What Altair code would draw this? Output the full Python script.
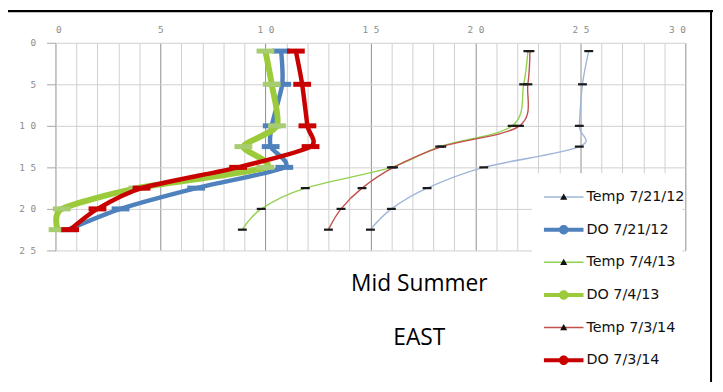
import altair as alt
import pandas as pd

# ---- data (depth profiles) ----
depths = [1, 5, 10, 12.5, 15, 17.5, 20, 22.5]
temp_2012 = [25.4, 25.1, 24.95, 24.95, 20.4, 17.7, 16.0, 15.0]
do_2012 = [10.75, 10.8, 10.3, 10.25, 10.9, 6.7, 3.1, 0.6]
temp_2013 = [22.5, 22.3, 21.75, 18.3, 16.0, 11.9, 9.8, 8.9]
do_2013 = [10.0, 10.3, 10.55, 8.95, 10.0, 3.9, 0.3, 0.1]
temp_2014 = [22.6, 22.5, 22.1, 18.4, 16.1, 14.6, 13.6, 13.0]
do_2014 = [11.45, 11.75, 12.0, 12.15, 8.7, 4.1, 2.0, 0.7]

series_names = ["Temp 7/21/12", "DO 7/21/12", "Temp 7/4/13", "DO 7/4/13", "Temp 7/3/14", "DO 7/3/14"]
series_values = [temp_2012, do_2012, temp_2013, do_2013, temp_2014, do_2014]
x_ticks = list(range(0, 31))
y_ticks = [0, 5, 10, 15, 20, 25]
annotations = ["Mid Summer", "EAST"]

# ---- styles ----
line_colors = ["#9FB6D9", "#4F81BD", "#92D050", "#9BCB3B", "#C0504D", "#C80000"]
marker_colors = ["#1a1a1a", "#4F81BD", "#1a1a1a", "#A8CC70", "#1a1a1a", "#C80000"]
legend_marker_fill = ["#111111", "transparent", "#111111", "transparent", "#111111", "transparent"]
line_widths = [1.4, 4.5, 1.4, 6, 1.4, 4.5]
tensions = [0, 0.3, 0, 0.3, 0, 0.3]
is_temp = [True, False, True, False, True, False]

TEMP_MARK = "M-1,-0.25H1V0.25H-1Z"
DO_MARK = "M-1,-0.28H1V0.28H-1Z"
LEG_TEMP = "M-2.5,-0.09H2.5V0.09H-2.5Z"
LEG_DO = "M-2.5,-0.25H2.5V0.25H-2.5Z M0.6,0A0.6,0.6 0 1,1 -0.6,0A0.6,0.6 0 1,1 0.6,0Z"
LEG_TRI = "M-0.45,0.35L0,-0.45L0.45,0.35Z"

rows = []
for name, vals in zip(series_names, series_values):
    for d, v in zip(depths, vals):
        rows.append({"series": name, "depth": d, "value": v})
df = pd.DataFrame(rows)

# tick labels in the original are widely spaced ("1 0", "2 5")
spaced = "datum.value >= 10 ? floor(datum.value / 10) + ' ' + (datum.value % 10) : datum.label"

x_enc = alt.X(
    "value:Q",
    scale=alt.Scale(domain=[0, 30], nice=False, zero=False),
    axis=alt.Axis(
        orient="top", values=x_ticks, title=None, domain=False, ticks=False,
        labelExpr=f"datum.value % 5 === 0 ? ({spaced}) : ''",
        labelFont="DejaVu Sans Mono", labelFontSize=9.5, labelColor="#8c8c8c",
        labelPadding=8, labelOverlap=False, grid=True, gridWidth=1,
        gridColor={"condition": {"test": "datum.value % 5 === 0", "value": "#8f8f8f"}, "value": "#cfcfcf"},
    ),
)
y_enc = alt.Y(
    "depth:Q",
    scale=alt.Scale(domain=[0, 25], reverse=True, nice=False, zero=False),
    axis=alt.Axis(
        orient="left", values=y_ticks, title=None, domain=False,
        ticks=True, tickSize=9, tickColor="#a6a6a6",
        labelExpr=spaced,
        labelFont="DejaVu Sans Mono", labelFontSize=9.5, labelColor="#8c8c8c",
        labelPadding=11, grid=True, gridColor="#cfcfcf", gridWidth=1,
    ),
)

one = pd.DataFrame({"a": [0]})
layers = []

# white box behind the legend that hides the gridlines
layers.append(
    alt.Chart(one).mark_rect(color="white").encode(
        x=alt.value(482), x2=alt.value(634), y=alt.value(132), y2=alt.value(215)
    )
)

for i, name in enumerate(series_names):
    base = alt.Chart(df).transform_filter(alt.datum.series == name)
    layers.append(
        base.mark_line(
            color=line_colors[i], strokeWidth=line_widths[i],
            interpolate="cardinal", tension=tensions[i],
        ).encode(x=x_enc, y=y_enc, order="depth:Q")
    )
    if is_temp[i]:
        layers.append(
            base.mark_point(shape=TEMP_MARK, filled=True, color=marker_colors[i],
                            size=81, opacity=1, strokeWidth=0).encode(x=x_enc, y=y_enc)
        )
    else:
        layers.append(
            base.mark_point(shape=DO_MARK, filled=True, color=marker_colors[i],
                            size=324, opacity=1, strokeWidth=0).encode(x=x_enc, y=y_enc)
        )

# legend: two identical-layout legends stacked (lines+circles, then black triangles)
legend_df = pd.DataFrame({
    "series": series_names,
    "series2": [n + " " for n in series_names],
    "value": [None] * 6, "depth": [None] * 6,
})
common = dict(
    title=None, orient="none", legendX=506, legendY=148, direction="vertical",
    symbolSize=256, symbolStrokeWidth=0, symbolOpacity=1,
    labelFont="DejaVu Sans", labelFontSize=14.5, labelOffset=15,
    rowPadding=18, padding=0,
)
leg1 = alt.Legend(labelColor="#111111", **common)
leg2 = alt.Legend(labelColor="#111111", labelOpacity=0, symbolType=LEG_TRI, **common)
layers.append(
    alt.Chart(legend_df).mark_point(filled=True, opacity=1).encode(
        x=x_enc, y=y_enc,
        color=alt.Color("series:N", scale=alt.Scale(domain=series_names, range=line_colors), legend=leg1),
        shape=alt.Shape("series:N", scale=alt.Scale(domain=series_names,
                        range=[LEG_TEMP if t else LEG_DO for t in is_temp]), legend=leg1),
    )
)
layers.append(
    alt.Chart(legend_df).mark_point(filled=True, opacity=1).encode(
        x=x_enc, y=y_enc,
        fill=alt.Fill("series2:N", scale=alt.Scale(domain=[n + " " for n in series_names],
                      range=legend_marker_fill), legend=leg2),
    )
)

layers.append(
    alt.Chart(pd.DataFrame({"t": [annotations[0]]})).mark_text(
        font="Open Sans", fontSize=23, color="#000000", align="center", baseline="alphabetic"
    ).encode(text="t:N", x=alt.value(368), y=alt.value(251))
)
layers.append(
    alt.Chart(pd.DataFrame({"t": [annotations[1]]})).mark_text(
        font="Open Sans", fontSize=23, color="#000000", align="center", baseline="alphabetic"
    ).encode(text="t:N", x=alt.value(368), y=alt.value(306))
)

# outer frame (top and right edges of the original screenshot)
layers.append(
    alt.Chart(one).mark_rule(color="black", strokeWidth=2.5).encode(
        x=alt.value(-48), x2=alt.value(665), y=alt.value(-32)
    )
)
layers.append(
    alt.Chart(one).mark_rule(color="black", strokeWidth=2).encode(
        x=alt.value(663), y=alt.value(-33), y2=alt.value(343)
    )
)

chart = (
    alt.layer(*layers)
    .properties(
        width=637, height=210, autosize="none",
        padding={"left": 48, "top": 33, "right": 30, "bottom": 141},
        background="white",
    )
    .configure_view(stroke=None)
)

chart.save("out.html", embed_options={"renderer": "svg", "actions": False})
